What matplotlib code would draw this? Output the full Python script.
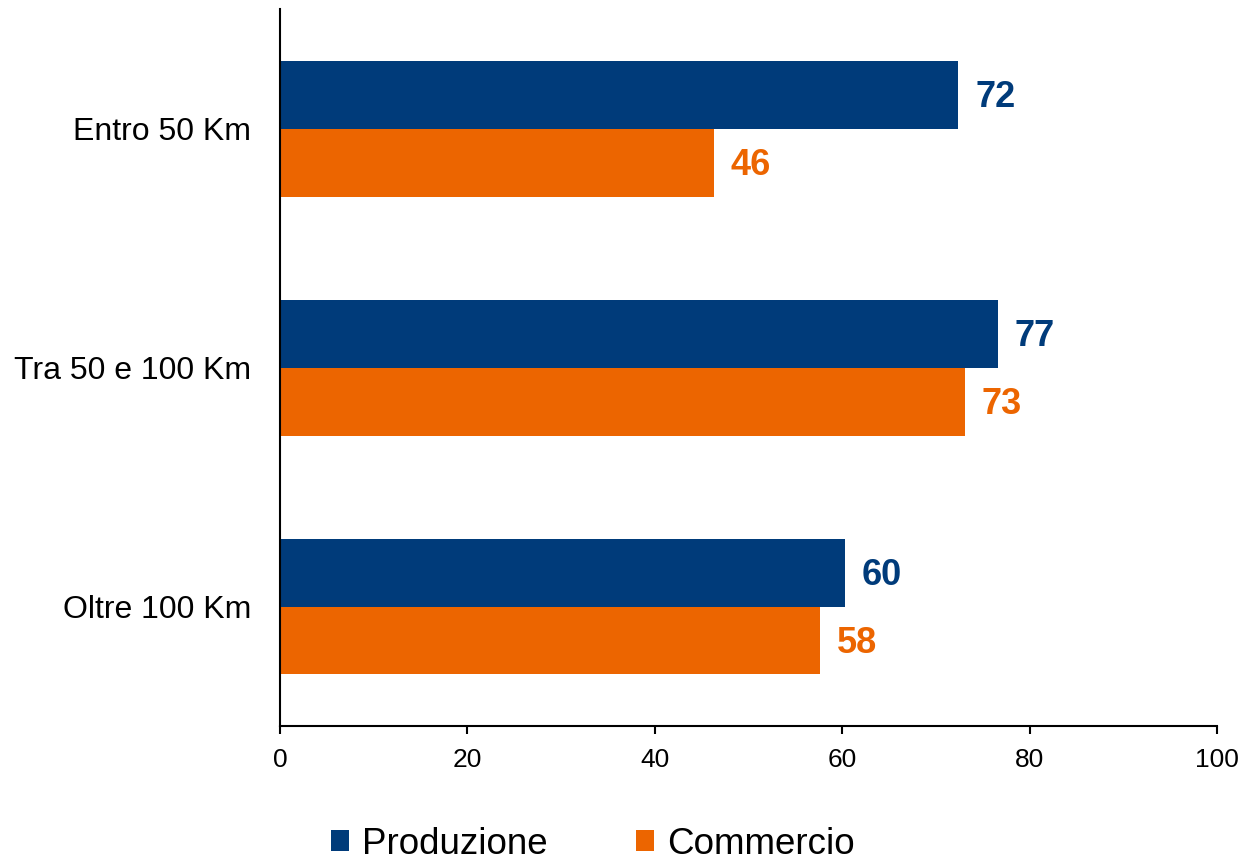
import numpy as np
import matplotlib.pyplot as plt

plt.rcParams['font.family'] = ['Liberation Sans', 'DejaVu Sans']

categorie = ['Entro 50 Km', 'Tra 50 e 100 Km', 'Oltre 100 Km']
produzione = [72.4, 76.6, 60.3]
commercio = [46.3, 73.1, 57.6]
serie = ['Produzione', 'Commercio']
colori = ['#003B7A', '#EC6500']

fig = plt.figure(figsize=(12.43, 8.63), dpi=100)
ax = fig.add_axes([0.2253, 0.1587, 0.7538, 0.8305])

y = np.arange(len(categorie))
h = 0.284
b1 = ax.barh(y - h/2, produzione, height=h, color=colori[0], label=serie[0])
b2 = ax.barh(y + h/2, commercio, height=h, color=colori[1], label=serie[1])

for bars, vals, c in [(b1, produzione, colori[0]), (b2, commercio, colori[1])]:
    for bar, v in zip(bars, vals):
        ax.annotate(f'{round(v)}', (v, bar.get_y() + bar.get_height()/2),
                    xytext=(12, -2), textcoords='offset points',
                    va='center', ha='left', fontsize=26, fontweight='bold', color=c)

ax.set_xlim(0, 100)
ax.set_ylim(2.5, -0.5)
ax.set_xticks(range(0, 101, 20))
ax.set_yticks(y)
ax.set_yticklabels(categorie, fontsize=23)
ax.tick_params(axis='x', labelsize=19, length=6, width=1.5, pad=10)
ax.tick_params(axis='y', length=0, pad=21)
for s in ['top', 'right']:
    ax.spines[s].set_visible(False)
for s in ['left', 'bottom']:
    ax.spines[s].set_linewidth(1.5)

fig.legend(loc='center', bbox_to_anchor=(0.477, 0.022), ncol=2, frameon=False,
           fontsize=26.5, handlelength=0.5, handleheight=0.5, handletextpad=0.35,
           columnspacing=2.4, borderpad=0.1)

fig.savefig('out.png', dpi=100)
